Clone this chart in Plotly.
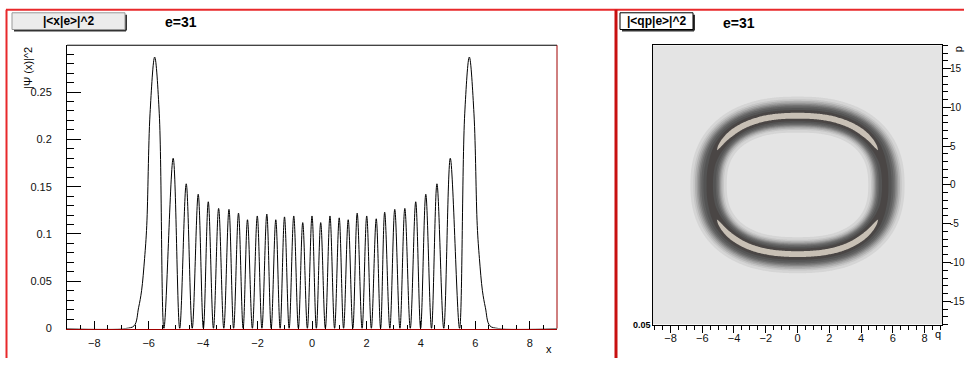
import numpy as np
import plotly.graph_objects as go

# ---------------- left panel : |<x|e>|^2 ----------------
psi_x = [-9.0, -6.85, -6.53, -6.37, -6.26, -6.15, -6.07, -5.95, -5.78, -5.61,
         -5.44, -5.10, -4.86, -4.62, -4.40, -4.18, -3.99, -3.81, -3.62, -3.43,
         -3.24, -3.05, -2.88, -2.70, -2.53, -2.37, -2.19, -2.01, -1.84, -1.66,
         -1.50, -1.33, -1.17, -1.01, -0.84, -0.67, -0.50, -0.34, -0.17, 0.0,
         0.16, 0.32, 0.49, 0.66, 0.83, 1.00, 1.16, 1.33, 1.50, 1.66,
         1.84, 2.01, 2.18, 2.36, 2.52, 2.67, 2.86, 3.04, 3.23, 3.41,
         3.61, 3.81, 3.99, 4.18, 4.39, 4.59, 4.84, 5.08, 5.42, 5.61,
         5.78, 5.95, 6.07, 6.15, 6.26, 6.37, 6.53, 6.85, 9.0]
psi_y = [0.0, 0.0, 0.003, 0.022, 0.040, 0.074, 0.109, 0.227, 0.287, 0.227,
         0.0, 0.180, 0.0, 0.153, 0.0, 0.142, 0.0, 0.134, 0.0, 0.127,
         0.0, 0.126, 0.0, 0.122, 0.0, 0.115, 0.0, 0.119, 0.0, 0.121,
         0.0, 0.115, 0.0, 0.118, 0.0, 0.119, 0.0, 0.112, 0.0, 0.119,
         0.0, 0.112, 0.0, 0.119, 0.0, 0.117, 0.0, 0.115, 0.0, 0.122,
         0.0, 0.119, 0.0, 0.116, 0.0, 0.123, 0.0, 0.126, 0.0, 0.127,
         0.0, 0.134, 0.0, 0.142, 0.0, 0.153, 0.0, 0.180, 0.0, 0.227,
         0.287, 0.227, 0.109, 0.074, 0.040, 0.022, 0.003, 0.0, 0.0]
x_range = [-9.0, 9.0]
y_range = [0.0, 0.2995]

# ---------------- right panel : |<qp|e>|^2 ring ----------------
q_range = [-9.1, 9.1]
p_range = [-18.0, 18.0]
p_tick_vals = [-15, -10, -5, 0, 5, 10, 15]
p_tick_text = ['-15', '-10', '-5', '0', '5', '10', '15']
ring_semi_q = 5.53          # ring radius along q
ring_semi_p = 8.92          # ring radius along p
ring_shape_exponent = 2.4   # oval is a little squarer than an ellipse
p_to_q_visual = 0.497       # how one p unit compares to one q unit on screen
profile_offset = [-1.19, -0.94, -0.75, -0.57, -0.38, -0.25, -0.16, 0.0,
                  0.16, 0.25, 0.38, 0.57, 0.82, 1.07, 1.32]   # across the ring, q units
profile_value = [0, 12, 34, 62, 84, 92, 96.5, 100, 96.5, 91, 84, 68, 38, 13, 0]
ring_angle_deg = [0, 18, 26, 32, 45, 90]
ring_angle_weight = [0.90, 0.91, 0.94, 0.97, 1.0, 1.0]
level_start, level_end, level_size = 5, 95, 10
band_colors = ['#e4e4e4', '#d5d5d5', '#c6c6c6', '#b2b2b2', '#9d9d9d', '#878787',
               '#727272', '#616161', '#545454', '#4a4645', '#c8c0b5']

# build the grid the contour trace needs
qg = np.linspace(q_range[0], q_range[1], 281)
pg = np.linspace(p_range[0], p_range[1], 281)
Q, P = np.meshgrid(qg, pg)
n = ring_shape_exponent
a = ring_semi_q
b = ring_semi_p * p_to_q_visual
U = np.abs(Q) / a
V = np.abs(P * p_to_q_visual) / b
with np.errstate(all='ignore'):
    rho = (U ** n + V ** n) ** (1.0 / n)
    grad = rho ** (1 - n) * np.sqrt((U ** (n - 1) / a) ** 2 + (V ** (n - 1) / b) ** 2)
    dist = (rho - 1.0) / grad
dist = np.where(np.isfinite(dist), dist, -10.0)
theta = np.degrees(np.arctan2(V, U))
Z = np.interp(dist, profile_offset, profile_value, left=0, right=0) * \
    np.interp(theta, ring_angle_deg, ring_angle_weight)

W, H = 965, 365
def px(x):
    return x / W
def py(y):
    return 1 - y / H

FONT = "Liberation Sans"
fig = go.Figure()

fig.add_trace(go.Scatter(x=psi_x, y=psi_y, mode='lines',
                         line=dict(color='black', width=1, shape='spline', smoothing=1.0),
                         xaxis='x', yaxis='y', hoverinfo='skip'))

nc = int(round((level_end - level_start) / level_size)) + 1
cscale = [[k / nc, c] for k, c in enumerate(band_colors)]
fig.add_trace(go.Contour(x=qg, y=pg, z=Z, xaxis='x2', yaxis='y2',
                         contours=dict(start=level_start, end=level_end, size=level_size,
                                       coloring='fill', showlines=False),
                         colorscale=cscale, showscale=False, line=dict(width=0),
                         hoverinfo='skip'))

tickfont = dict(family=FONT, size=11, color='#111111')
fig.update_layout(
    width=W, height=H, margin=dict(l=0, r=0, t=0, b=0),
    paper_bgcolor='white', plot_bgcolor='white', showlegend=False,
    font=dict(family=FONT),
    xaxis=dict(domain=[px(67), px(557)], range=x_range, anchor='y',
               showline=True, linecolor='#a00000', linewidth=1,
               ticks='inside', ticklen=8, tickcolor='black', dtick=2, tick0=0,
               minor=dict(dtick=0.5, ticklen=4, ticks='inside', tickcolor='black'),
               showgrid=False, zeroline=False, tickfont=tickfont, ticklabelstandoff=4),
    yaxis=dict(domain=[py(334), py(46)], range=y_range, anchor='x',
               showline=True, linecolor='black', linewidth=1,
               ticks='inside', ticklen=14, tickcolor='black', dtick=0.05, tick0=0,
               minor=dict(dtick=0.01, ticklen=7, ticks='inside', tickcolor='black'),
               showgrid=False, zeroline=False, tickfont=tickfont, ticklabelstandoff=12),
    xaxis2=dict(domain=[px(653), px(942)], range=q_range, anchor='y2',
                showline=True, linecolor='black', linewidth=1, mirror=True,
                ticks='outside', ticklen=7, tickcolor='black', dtick=2, tick0=0,
                minor=dict(dtick=0.5, ticklen=4, ticks='outside', tickcolor='black'),
                showgrid=False, zeroline=False, tickfont=tickfont, ticklabelstandoff=-4),
    yaxis2=dict(domain=[py(330), py(46)], range=p_range, anchor='x2', side='right',
                showline=True, linecolor='black', linewidth=1, mirror=True,
                ticks='outside', ticklen=8, tickcolor='black',
                tickmode='array', tickvals=p_tick_vals, ticktext=p_tick_text,
                minor=dict(dtick=1, tick0=0, ticklen=5, ticks='outside', tickcolor='black'),
                showgrid=False, zeroline=False,
                tickfont=dict(family=FONT, size=10, color='#111111'), ticklabelstandoff=-3),
)

shapes = []
# left frame: black top, dark red right
shapes.append(dict(type='line', xref='paper', yref='paper', x0=px(67), x1=px(557),
                   y0=py(46), y1=py(46), line=dict(color='black', width=1)))
shapes.append(dict(type='line', xref='paper', yref='paper', x0=px(557), x1=px(557),
                   y0=py(46), y1=py(334), line=dict(color='#a00000', width=1)))
# canvas / pad borders
shapes.append(dict(type='line', xref='paper', yref='paper', x0=px(6), x1=px(964),
                   y0=py(10), y1=py(10), line=dict(color='#e8292b', width=2)))
shapes.append(dict(type='line', xref='paper', yref='paper', x0=px(6.5), x1=px(6.5),
                   y0=py(10), y1=py(364), line=dict(color='#e8292b', width=2)))
shapes.append(dict(type='line', xref='paper', yref='paper', x0=px(616), x1=px(616),
                   y0=py(10), y1=py(364), line=dict(color='#c81010', width=3)))
# title boxes with shadows
shapes.append(dict(type='line', xref='paper', yref='paper', x0=px(14), x1=px(126),
                   y0=py(31), y1=py(31), line=dict(color='#333333', width=2)))
shapes.append(dict(type='line', xref='paper', yref='paper', x0=px(126), x1=px(126),
                   y0=py(15), y1=py(31), line=dict(color='#333333', width=2)))
shapes.append(dict(type='rect', xref='paper', yref='paper', x0=px(12), x1=px(125),
                   y0=py(30), y1=py(13), fillcolor='#ececec', line=dict(color='#999999', width=1)))
shapes.append(dict(type='line', xref='paper', yref='paper', x0=px(622), x1=px(694),
                   y0=py(31), y1=py(31), line=dict(color='#333333', width=2)))
shapes.append(dict(type='line', xref='paper', yref='paper', x0=px(694), x1=px(694),
                   y0=py(15), y1=py(31), line=dict(color='#333333', width=2)))
shapes.append(dict(type='rect', xref='paper', yref='paper', x0=px(620), x1=px(693),
                   y0=py(30), y1=py(13), fillcolor='white', line=dict(color='black', width=1)))
fig.update_layout(shapes=shapes)

def ann(text, x, y, size=11, bold=False, angle=0, xanchor='center'):
    return dict(text=text, x=px(x), y=py(y), xref='paper', yref='paper',
                showarrow=False, textangle=angle, xanchor=xanchor, yanchor='middle',
                font=dict(family=FONT, size=size, color='black',
                          weight='bold' if bold else 'normal'))

fig.update_layout(annotations=[
    ann('|<x|e>|^2', 68.5, 21.5, size=12, bold=True),
    ann('e=31', 181, 22, size=14, bold=True),
    ann('|<qp|e>|^2', 656.5, 21.5, size=12, bold=True),
    ann('e=31', 739, 23, size=14, bold=True),
    ann('|Ψ (x)|^2', 28, 69, size=11, angle=-90),
    ann('x', 549, 355, size=11),
    ann('q', 938, 340, size=11),
    ann('p', 958, 50, size=11, angle=-90),
    ann('0.05', 642, 330, size=9, bold=True),
])

post = ("var de=document.documentElement, bd=document.body;"
        "de.style.margin='0'; bd.style.margin='0';"
        "de.style.overflow='hidden'; bd.style.overflow='hidden';"
        "de.style.height='365px'; bd.style.height='365px';"
        "var g=document.querySelector('.plotly-graph-div');"
        "if(g){g.style.overflow='hidden'; if(g.parentNode){g.parentNode.style.height='365px';"
        "g.parentNode.style.overflow='hidden';}}")
fig.write_html("out.html", config={'displayModeBar': False}, post_script=post)
